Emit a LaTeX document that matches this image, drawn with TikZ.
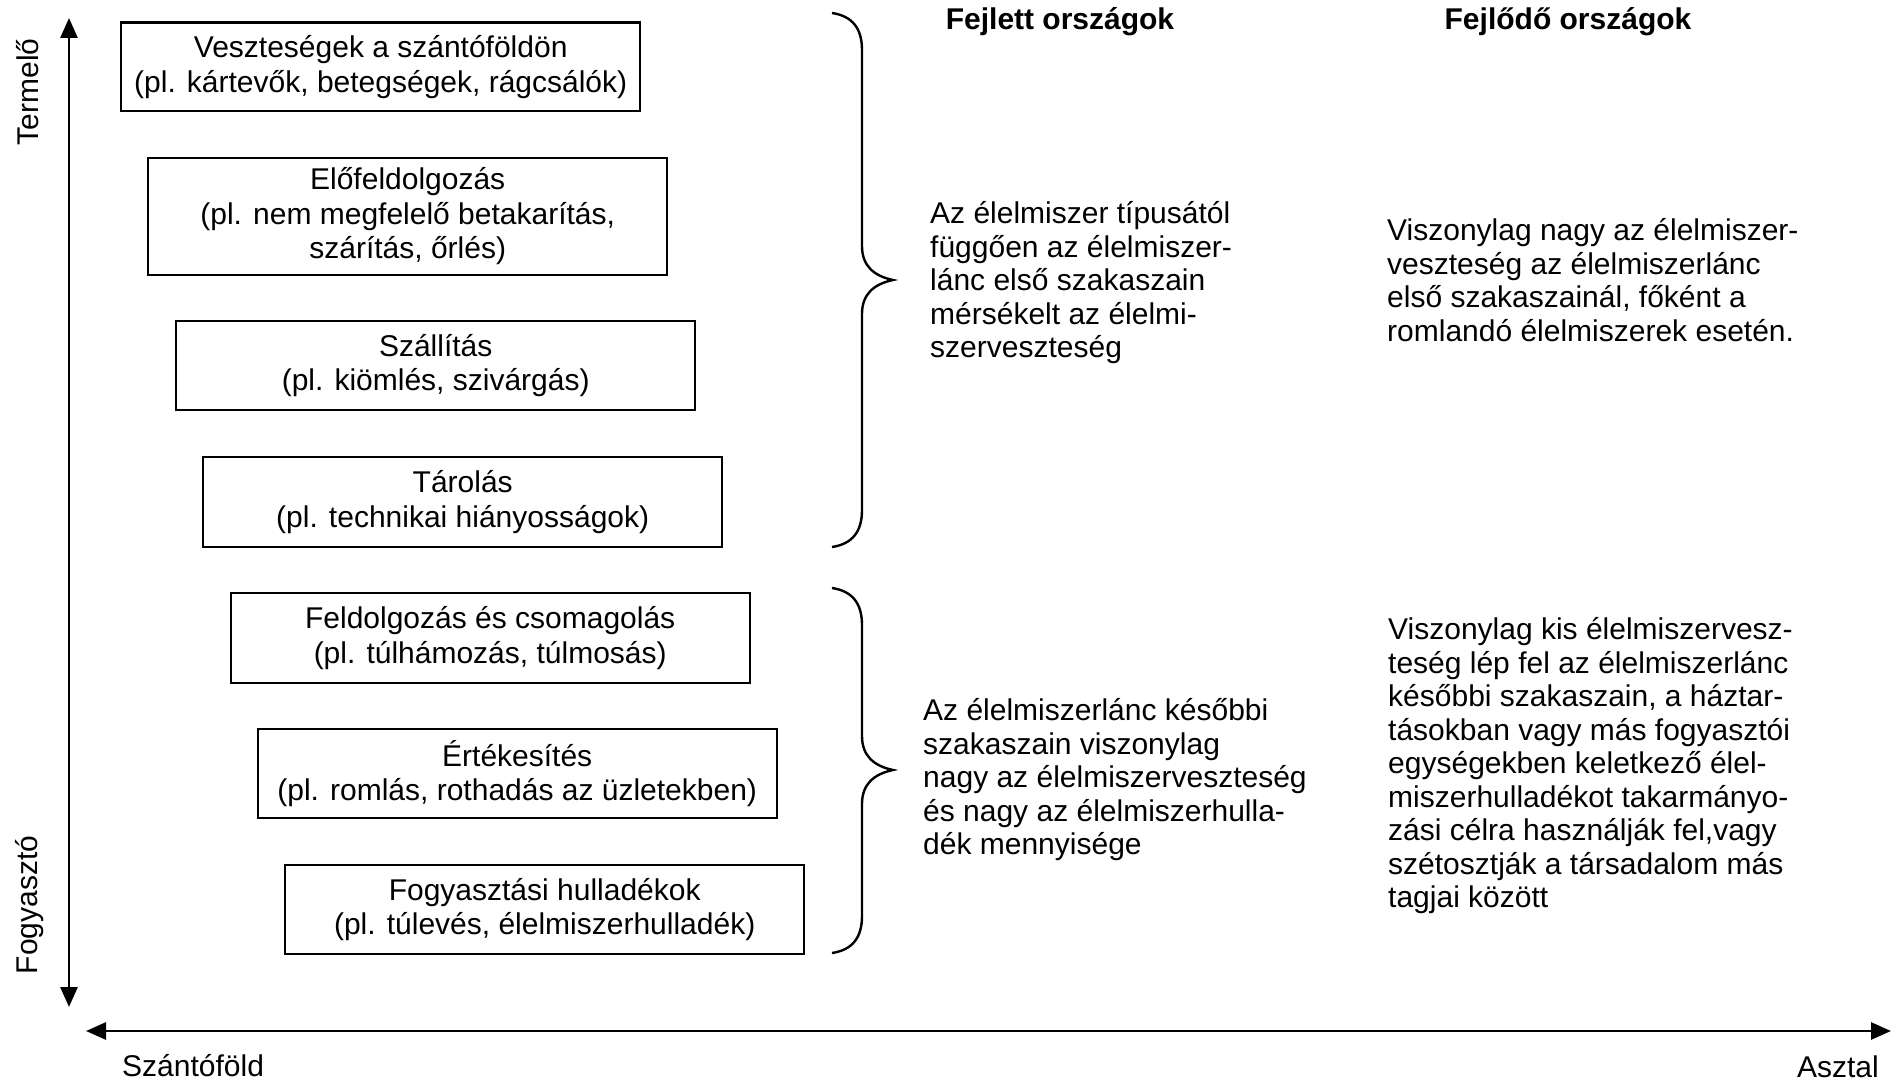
\documentclass[tikz,border=0pt]{standalone}
\usepackage{fontspec}
\setmainfont{Liberation Sans}
\usetikzlibrary{arrows.meta}
\newcommand\mytxt{\fontsize{30}{34.5}\selectfont}
\newcommand\myblk{\fontsize{30}{33.5}\selectfont}
\begin{document}
\begin{tikzpicture}[x=1pt,y=-1pt,
  stagebox/.style={draw, line width=2.4pt, minimum width=519pt, minimum height=89pt,
    anchor=north west, align=center, inner sep=0pt, font=\mytxt},
  blk/.style={anchor=west, align=left, inner sep=0pt, font=\myblk},
  head/.style={inner sep=0pt, font=\bfseries\mytxt},
  lbl/.style={inner sep=0pt, font=\mytxt},
  axis/.style={line width=2.8pt, {Triangle[length=20pt,width=17pt]}-{Triangle[length=20pt,width=17pt]}},
  brc/.style={line width=2.4pt}
]
\useasboundingbox (0,0) rectangle (1893,1081);
\fill[white] (0,0) rectangle (1893,1081);

% axes
\coordinate (vt) at (69,18);
\coordinate (vb) at (69,1007);
\coordinate (hl) at (86,1031);
\coordinate (hr) at (1891,1031);
\draw[axis] (vt) -- (vb);
\draw[axis] (hl) -- (hr);

\node[lbl, rotate=90] (termelo) at (28,92) {Termelő};
\node[lbl, rotate=90] (fogyaszto) at (30,905) {Fogyasztó};
\node[lbl, anchor=west] (szanto) at (122,1066) {Szántóföld};
\node[lbl, anchor=east] (asztal) at (1879,1067) {Asztal};

% stage boxes
\node[stagebox, minimum height=88.5pt] (b1) at (120,21.5) {Veszteségek a szántóföldön\\(pl. kártevők, betegségek, rágcsálók)};
\node[stagebox, minimum height=117.5pt] (b2) at (147,156.5) {Előfeldolgozás\\(pl. nem megfelelő betakarítás,\\szárítás, őrlés)};
\node[stagebox] (b3) at (175,320) {Szállítás\\(pl. kiömlés, szivárgás)};
\node[stagebox, minimum height=90pt] (b4) at (202,456) {Tárolás\\(pl. technikai hiányosságok)};
\node[stagebox, minimum height=89.5pt] (b5) at (229.5,592) {Feldolgozás és csomagolás\\(pl. túlhámozás, túlmosás)};
\node[stagebox] (b6) at (256.5,728) {Értékesítés\\(pl. romlás, rothadás az üzletekben)};
\node[stagebox] (b7) at (284,864) {Fogyasztási hulladékok\\(pl. túlevés, élelmiszerhulladék)};

% braces
\draw[brc] (832,13) .. controls (852,16) and (862,28) .. (862,50) -- (862,246)
  .. controls (862,266) and (874,276) .. (893,280)
  .. controls (874,284) and (862,294) .. (862,314) -- (862,510)
  .. controls (862,532) and (852,544) .. (832,547);
\draw[brc] (832,588) .. controls (852,591) and (862,603) .. (862,625) -- (862,736)
  .. controls (862,756) and (874,766) .. (893,770)
  .. controls (874,774) and (862,784) .. (862,804) -- (862,916)
  .. controls (862,938) and (852,950) .. (832,953);

% headings
\node[head] (h1) at (1060,22) {Fejlett országok};
\node[head] (h2) at (1568,22) {Fejlődő országok};

% text blocks
\node[blk] (t1) at (930,283) {Az élelmiszer típusától\\függően az élelmiszer-\\lánc első szakaszain\\mérsékelt az élelmi-\\szerveszteség};
\node[blk] (t2) at (1387,280) {Viszonylag nagy az élelmiszer-\\veszteség az élelmiszerlánc\\első szakaszainál, főként a\\romlandó élelmiszerek esetén.};
\node[blk] (t3) at (923,780) {Az élelmiszerlánc későbbi\\szakaszain viszonylag\\nagy az élelmiszerveszteség\\és nagy az élelmiszerhulla-\\dék mennyisége};
\node[blk] (t4) at (1388,766) {Viszonylag kis élelmiszervesz-\\teség lép fel az élelmiszerlánc\\későbbi szakaszain, a háztar-\\tásokban vagy más fogyasztói\\egységekben keletkező élel-\\miszerhulladékot takarmányo-\\zási célra használják fel,vagy\\szétosztják a társadalom más\\tagjai között};
\end{tikzpicture}
\end{document}
